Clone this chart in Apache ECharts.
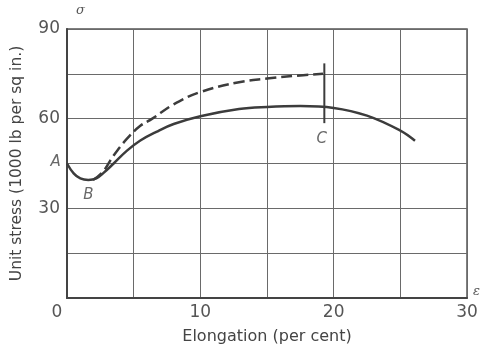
<!DOCTYPE html>
<html>
<head>
<meta charset="utf-8">
<script src="https://cdn.jsdelivr.net/npm/echarts@6/dist/echarts.min.js"></script>
<style>
  html, body { margin: 0; padding: 0; background: #fff; }
  #chart { width: 481px; height: 350px; }
</style>
</head>
<body>
<div id="chart"></div>
<script>
// elongation (per cent) vs unit stress (1000 lb per sq in.)
const solidCurve = [
  [0, 45], [0.5, 41.7], [1, 40], [1.6, 39.5], [2.2, 40], [2.7, 41.7],
  [3.5, 45], [4.5, 49.3], [5.5, 52.7], [6.7, 55.6], [8, 58.2], [10, 60.8],
  [12.9, 63.2], [15, 63.9], [17.5, 64.2], [20, 63.6], [22.5, 61],
  [25, 56], [26.1, 52.6]
]
const dashedCurve = [
  [1.95, 39.5], [2.7, 42.3], [3.5, 47.7], [4.5, 53.3], [5.5, 57.6],
  [6.4, 60], [8, 64.8], [10, 68.9], [12.9, 72.2], [15, 73.4], [17, 74.3],
  [19.2, 75]
]
const lineC = [[19.3, 58.5], [19.3, 78.5]]
const pointLabels = [
  { name: 'A', value: [-0.85, 45.5] },
  { name: 'B', value: [1.6, 34.5] },
  { name: 'C', value: [19.1, 53] }
]
const xTickLabels = [0, 10, 20, 30]
const yTickLabels = [30, 60, 90]

const ink = '#3c3c3c'
const gridGray = '#6a6a6a'
const font = 'DejaVu Sans'

let chart = echarts.init(document.getElementById('chart'))
chart.setOption({
  animation: false,
  grid: {
    left: 67,
    right: 14,
    top: 29,
    bottom: 49,
    show: true,
    borderColor: '#555',
    borderWidth: 1.5
  },
  xAxis: {
    type: 'value',
    min: 0,
    max: 30,
    interval: 5,
    name: 'Elongation (per cent)',
    nameLocation: 'middle',
    nameGap: 31,
    nameTextStyle: { color: '#444', fontFamily: font, fontSize: 16 },
    axisLine: { lineStyle: { color: '#444', width: 2 } },
    axisTick: { show: false },
    splitLine: { lineStyle: { color: gridGray, width: 1 } },
    axisLabel: {
      color: '#555',
      fontFamily: font,
      fontSize: 17,
      margin: 6,
      formatter: v => {
        if (v === 0) return '{zero|0}'
        return xTickLabels.indexOf(v) >= 0 ? String(v) : ''
      },
      rich: {
        zero: { color: '#555', fontFamily: font, fontSize: 17, padding: [0, 20, 0, 0] }
      }
    }
  },
  yAxis: {
    type: 'value',
    min: 0,
    max: 90,
    interval: 15,
    name: 'Unit stress (1000 lb per sq in.)',
    nameLocation: 'middle',
    nameGap: 42,
    nameTextStyle: { color: '#444', fontFamily: font, fontSize: 15.5 },
    axisLine: { lineStyle: { color: '#444', width: 2 } },
    axisTick: { show: false },
    splitLine: { lineStyle: { color: gridGray, width: 1 } },
    axisLabel: {
      color: '#555',
      fontFamily: font,
      fontSize: 17,
      margin: 7,
      formatter: v => (yTickLabels.indexOf(v) >= 0 ? String(v) : '')
    }
  },
  graphic: [
    { type: 'text', left: 76, top: 4, style: { text: 'σ', fill: '#555', font: 'italic 13px DejaVu Serif' } },
    { type: 'text', left: 473, top: 285, style: { text: 'ε', fill: '#555', font: 'italic 13px DejaVu Serif' } }
  ],
  series: [
    {
      type: 'line',
      data: solidCurve,
      smooth: 0.4,
      symbol: 'none',
      lineStyle: { color: ink, width: 2.5 }
    },
    {
      type: 'line',
      data: dashedCurve,
      smooth: 0.4,
      symbol: 'none',
      lineStyle: { color: ink, width: 2.5, type: [11, 5] }
    },
    {
      type: 'line',
      data: lineC,
      symbol: 'none',
      lineStyle: { color: ink, width: 2 }
    },
    {
      type: 'scatter',
      data: pointLabels,
      symbolSize: 0,
      clip: false,
      label: {
        show: true,
        position: 'inside',
        formatter: p => p.name,
        color: '#444',
        fontFamily: font,
        fontStyle: 'italic',
        fontSize: 15
      }
    }
  ]
})
</script>
</body>
</html>
